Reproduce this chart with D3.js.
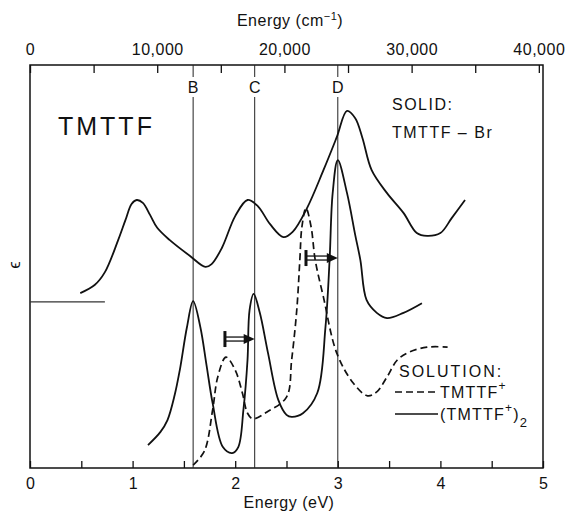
<!DOCTYPE html>
<html>
<head>
<meta charset="utf-8">
<script src="https://cdn.jsdelivr.net/npm/d3@7/dist/d3.min.js"></script>
<style>
  body { margin: 0; background: #fff; }
  text { font-family: "Liberation Sans", Arial, sans-serif; fill: #111; }
</style>
</head>
<body>
<div id="chart"></div>
<script>
// Energy in eV, epsilon in arbitrary units
var solidEnergy = [0.49, 0.63, 0.73, 0.86, 0.93, 0.99, 1.04, 1.10, 1.17, 1.24, 1.36, 1.56, 1.71, 1.77, 1.87, 2.00, 2.12, 2.22, 2.34, 2.47, 2.56, 2.70, 2.86, 2.99, 3.09, 3.17, 3.24, 3.33, 3.48, 3.64, 3.77, 3.87, 4.00, 4.11, 4.24];
var solidEps = [4.34, 4.54, 4.86, 5.66, 6.15, 6.55, 6.65, 6.58, 6.28, 5.96, 5.66, 5.26, 4.99, 5.06, 5.46, 6.25, 6.65, 6.50, 6.05, 5.73, 5.86, 6.45, 7.39, 8.21, 8.86, 8.68, 8.19, 7.39, 6.82, 6.33, 5.83, 5.76, 5.83, 6.20, 6.65];

var dimerEnergy = [1.15, 1.27, 1.34, 1.41, 1.46, 1.53, 1.59, 1.66, 1.72, 1.78, 1.88, 1.97, 2.03, 2.08, 2.12, 2.14, 2.18, 2.24, 2.32, 2.42, 2.50, 2.55, 2.66, 2.80, 2.88, 2.92, 2.95, 3.00, 3.09, 3.17, 3.22, 3.28, 3.38, 3.48, 3.64, 3.82];
var dimerEps = [0.57, 0.89, 1.19, 1.81, 2.43, 3.50, 4.14, 3.50, 2.56, 1.61, 0.52, 0.37, 0.52, 1.44, 2.68, 3.92, 4.32, 3.85, 2.85, 1.69, 1.32, 1.27, 1.36, 1.86, 3.50, 5.16, 6.82, 7.64, 6.82, 5.78, 5.16, 4.17, 3.85, 3.72, 3.85, 4.09];

var monoEnergy = [1.59, 1.70, 1.78, 1.83, 1.91, 2.00, 2.07, 2.12, 2.17, 2.31, 2.50, 2.55, 2.60, 2.63, 2.65, 2.69, 2.74, 2.78, 2.86, 2.99, 3.15, 3.29, 3.38, 3.48, 3.58, 3.70, 3.87, 4.07];
var monoEps = [0.07, 0.42, 1.44, 2.26, 2.75, 2.43, 1.86, 1.36, 1.22, 1.39, 1.76, 2.68, 3.92, 5.16, 5.98, 6.45, 5.98, 5.16, 4.24, 2.85, 2.11, 1.79, 1.89, 2.26, 2.68, 2.88, 3.00, 3.00];

var markNames = ["B", "C", "D"];
var markEnergy = [1.59, 2.19, 3.00];

var arrowStart = [1.90, 2.69];
var arrowEnd = [2.19, 3.00];
var arrowEps = [3.20, 5.21];

var solidBaseEps = 4.12;
var solidBaseEnd = 0.73;

var eVTicks = [0, 0.5, 1, 1.5, 2, 2.5, 3, 3.5, 4, 4.5, 5];
var cmTicks = [0, 5000, 10000, 15000, 20000, 25000, 30000, 35000, 40000];
var EV_TO_CM = 8065.54;

var svgWidth = 570, svgHeight = 517;
var plotLeft = 30, plotRight = 543, plotTop = 65, plotBottom = 468;

var svg = d3.select("#chart").append("svg")
    .attr("width", svgWidth)
    .attr("height", svgHeight);

var x = d3.scaleLinear().domain([0, 5]).range([plotLeft, plotRight]);
var xTop = d3.scaleLinear().domain([0, 5 * EV_TO_CM]).range([plotLeft, plotRight]);
var y = d3.scaleLinear().domain([0, 10]).range([plotBottom, plotTop]);

// frame
svg.append("rect")
    .attr("x", plotLeft).attr("y", plotTop)
    .attr("width", plotRight - plotLeft).attr("height", plotBottom - plotTop)
    .attr("fill", "none").attr("stroke", "#111").attr("stroke-width", 1.5);

// bottom axis
var bottomAxis = d3.axisBottom(x)
    .tickValues(eVTicks)
    .tickSizeInner(-7).tickSizeOuter(0).tickPadding(10)
    .tickFormat(d => d % 1 === 0 ? d3.format("d")(d) : "");
var gb = svg.append("g").attr("transform", `translate(0,${plotBottom})`).call(bottomAxis);
gb.select(".domain").remove();
gb.selectAll("line").attr("stroke", "#111").attr("stroke-width", 1.3);
gb.selectAll("text").style("font-size", "16px").attr("fill", "#111");

// top axis
var topAxis = d3.axisTop(xTop)
    .tickValues(cmTicks)
    .tickSizeInner(-8).tickSizeOuter(0).tickPadding(10)
    .tickFormat(d => d % 10000 === 0 ? d3.format(",")(d) : "");
var gt = svg.append("g").attr("transform", `translate(0,${plotTop})`).call(topAxis);
gt.select(".domain").remove();
gt.selectAll("line").attr("stroke", "#111").attr("stroke-width", 1.3);
gt.selectAll("text").style("font-size", "16px").style("letter-spacing", "0.5px").attr("fill", "#111");

// axis titles
svg.append("text")
    .attr("x", 289).attr("y", 508)
    .attr("text-anchor", "middle")
    .style("font-size", "16px").style("letter-spacing", "0.5px")
    .text("Energy (eV)");

var tt = svg.append("text")
    .attr("x", 290).attr("y", 26)
    .attr("text-anchor", "middle")
    .style("font-size", "16px").style("letter-spacing", "0.5px");
tt.append("tspan").text("Energy (cm");
tt.append("tspan").attr("dy", -6).style("font-size", "11px").text("−1");
tt.append("tspan").attr("dy", 6).text(")");

svg.append("text")
    .attr("transform", "translate(14,265) rotate(-90)")
    .attr("text-anchor", "middle")
    .attr("dy", "0.35em")
    .style("font-size", "16px")
    .text("ϵ");

// marker lines B, C, D
markEnergy.forEach(function(e, i) {
    svg.append("line")
        .attr("x1", x(e)).attr("x2", x(e))
        .attr("y1", plotTop).attr("y2", 77)
        .attr("stroke", "#222").attr("stroke-width", 1);
    svg.append("line")
        .attr("x1", x(e)).attr("x2", x(e))
        .attr("y1", 97).attr("y2", plotBottom)
        .attr("stroke", "#222").attr("stroke-width", 1);
    svg.append("text")
        .attr("x", x(e)).attr("y", 93)
        .attr("text-anchor", "middle")
        .style("font-size", "16px")
        .text(markNames[i]);
});

// baseline for solid spectrum
svg.append("line")
    .attr("x1", x(0)).attr("x2", x(solidBaseEnd))
    .attr("y1", y(solidBaseEps)).attr("y2", y(solidBaseEps))
    .attr("stroke", "#333").attr("stroke-width", 1.3);

var line = d3.line()
    .x(d => x(d[0]))
    .y(d => y(d[1]))
    .curve(d3.curveCatmullRom.alpha(0.5));

svg.append("path")
    .datum(d3.zip(solidEnergy, solidEps))
    .attr("d", line)
    .attr("fill", "none").attr("stroke", "#111").attr("stroke-width", 1.8);

svg.append("path")
    .datum(d3.zip(dimerEnergy, dimerEps))
    .attr("d", line)
    .attr("fill", "none").attr("stroke", "#111").attr("stroke-width", 1.8);

svg.append("path")
    .datum(d3.zip(monoEnergy, monoEps))
    .attr("d", line)
    .attr("fill", "none").attr("stroke", "#111").attr("stroke-width", 1.7)
    .attr("stroke-dasharray", "7,4");

// shift arrows
arrowStart.forEach(function(s, i) {
    var x0 = x(s), x1 = x(arrowEnd[i]), yy = y(arrowEps[i]);
    var g = svg.append("g").attr("stroke", "#111");
    g.append("line").attr("x1", x0).attr("x2", x0).attr("y1", yy - 8).attr("y2", yy + 8).attr("stroke-width", 3);
    g.append("line").attr("x1", x0).attr("x2", x1 - 9).attr("y1", yy - 2).attr("y2", yy - 2).attr("stroke-width", 1.3);
    g.append("line").attr("x1", x0).attr("x2", x1 - 9).attr("y1", yy + 2).attr("y2", yy + 2).attr("stroke-width", 1.3);
    g.append("path")
        .attr("d", `M${x1},${yy}L${x1 - 11},${yy - 5}L${x1 - 11},${yy + 5}Z`)
        .attr("fill", "#111").attr("stroke", "none");
});

// labels
svg.append("text")
    .attr("x", 58).attr("y", 135)
    .style("font-size", "25px").style("letter-spacing", "3px")
    .text("TMTTF");

svg.append("text")
    .attr("x", 392).attr("y", 110)
    .style("font-size", "16px").style("letter-spacing", "1.5px")
    .text("SOLID:");
svg.append("text")
    .attr("x", 392).attr("y", 138)
    .style("font-size", "16px").style("letter-spacing", "1.5px")
    .text("TMTTF – Br");

svg.append("text")
    .attr("x", 399).attr("y", 377)
    .style("font-size", "16px").style("letter-spacing", "2px")
    .text("SOLUTION:");

svg.append("line")
    .attr("x1", 395).attr("x2", 438).attr("y1", 392).attr("y2", 392)
    .attr("stroke", "#111").attr("stroke-width", 1.5).attr("stroke-dasharray", "7,4");
var t1 = svg.append("text")
    .attr("x", 440).attr("y", 398)
    .style("font-size", "16px").style("letter-spacing", "1.2px");
t1.append("tspan").text("TMTTF");
t1.append("tspan").attr("dy", -8).style("font-size", "12px").text("+");

svg.append("line")
    .attr("x1", 395).attr("x2", 438).attr("y1", 414).attr("y2", 414)
    .attr("stroke", "#111").attr("stroke-width", 1.5);
var t2 = svg.append("text")
    .attr("x", 440).attr("y", 420)
    .style("font-size", "16px").style("letter-spacing", "1.2px");
t2.append("tspan").text("(TMTTF");
t2.append("tspan").attr("dy", -8).style("font-size", "12px").text("+");
t2.append("tspan").attr("dy", 8).text(")");
t2.append("tspan").attr("dy", 7).style("font-size", "13px").text("2");
</script>
</body>
</html>
